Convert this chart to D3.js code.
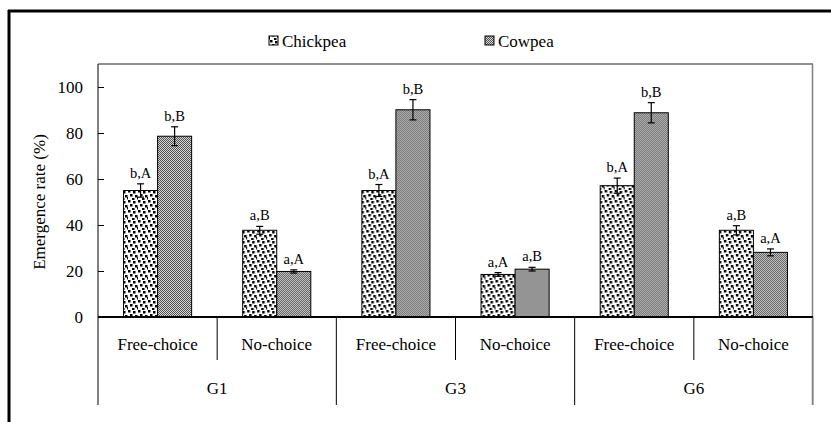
<!DOCTYPE html>
<html>
<head>
<meta charset="utf-8">
<script src="https://cdn.jsdelivr.net/npm/d3@7"></script>
<style>
  html, body { margin: 0; padding: 0; background: #fff; }
  #chart { width: 831px; height: 422px; }
  svg text { font-family: "Liberation Serif", "Times New Roman", serif; fill: #000; }
</style>
</head>
<body>
<div id="chart"></div>
<script>
// Emergence rate by parasitoid group, choice test and host
const groups = ["G1", "G3", "G6"];
const choices = ["Free-choice", "No-choice"];
const series = ["Chickpea", "Cowpea"];

// values in order G1 free, G1 no, G3 free, G3 no, G6 free, G6 no
const chickpeaValues = [55.0, 37.7, 55.0, 18.5, 57.1, 37.7];
const cowpeaValues   = [78.6, 19.8, 90.1, 20.8, 88.8, 28.1];
const chickpeaErr = [2.9, 1.7, 2.6, 0.8, 3.3, 2.0];
const cowpeaErr   = [4.1, 0.7, 4.4, 0.8, 4.4, 1.5];
const chickpeaLetters = ["b,A", "a,B", "b,A", "a,A", "b,A", "a,B"];
const cowpeaLetters   = ["b,B", "a,A", "b,B", "a,B", "b,B", "a,A"];
const yTicks = [0, 20, 40, 60, 80, 100];

const W = 831, H = 422;
const M = {l: 98, r: 813, t: 64, b: 317};
const FONT = "'Liberation Serif', 'Times New Roman', serif";

const svg = d3.select("#chart").append("svg").attr("width", W).attr("height", H)
  .attr("font-family", FONT);

// fill patterns
const defs = svg.append("defs");
const dots = defs.append("pattern").attr("id", "dots")
  .attr("patternUnits", "userSpaceOnUse").attr("width", 10).attr("height", 10);
dots.append("rect").attr("width", 10).attr("height", 10).attr("fill", "#fff");
[[0, 0], [5, 1], [2, 4], [7, 5], [4, 8], [9, 7]].forEach(p => {
  dots.append("rect").attr("x", p[0]).attr("y", p[1]).attr("width", 2.5).attr("height", 2.5).attr("fill", "#000");
});
const checks = defs.append("pattern").attr("id", "checks")
  .attr("patternUnits", "userSpaceOnUse").attr("width", 2).attr("height", 2);
checks.append("rect").attr("width", 2).attr("height", 2).attr("fill", "#d8d8d8");
checks.append("rect").attr("x", 0).attr("y", 0).attr("width", 1).attr("height", 1).attr("fill", "#505050");
checks.append("rect").attr("x", 1).attr("y", 1).attr("width", 1).attr("height", 1).attr("fill", "#505050");
const fills = {Chickpea: "url(#dots)", Cowpea: "url(#checks)"};

// outer frame (cropped: only top and left visible)
svg.append("line").attr("x1", 8).attr("x2", W).attr("y1", 11).attr("y2", 11)
  .attr("stroke", "#000").attr("stroke-width", 3);
svg.append("line").attr("x1", 9).attr("x2", 9).attr("y1", 10).attr("y2", H)
  .attr("stroke", "#000").attr("stroke-width", 3);

// rows
const rows = [];
groups.forEach((g, gi) => choices.forEach((c, ci) => {
  const i = gi * 2 + ci;
  rows.push({key: g + "|" + c, group: g, choice: c, vals: [
    {s: "Chickpea", v: chickpeaValues[i], e: chickpeaErr[i], lab: chickpeaLetters[i]},
    {s: "Cowpea", v: cowpeaValues[i], e: cowpeaErr[i], lab: cowpeaLetters[i]}
  ]});
}));

const x0 = d3.scaleBand().domain(rows.map(d => d.key)).range([M.l, M.r]);
const x1 = d3.scaleBand().domain(series).range([0, x0.bandwidth()]).paddingOuter(0.75).paddingInner(0);
const y = d3.scaleLinear().domain([0, 110]).range([M.b, M.t]);

// plot area border (top + right)
svg.append("line").attr("x1", M.l).attr("x2", M.r).attr("y1", M.t).attr("y2", M.t)
  .attr("stroke", "#222").attr("stroke-width", 1);
svg.append("line").attr("x1", M.r - 0.5).attr("x2", M.r - 0.5).attr("y1", M.t).attr("y2", 405)
  .attr("stroke", "#808080").attr("stroke-width", 1.5);

// bars
const g = svg.selectAll(".cat").data(rows).enter().append("g")
  .attr("transform", d => `translate(${x0(d.key)},0)`);
g.selectAll("rect").data(d => d.vals).enter().append("rect")
  .attr("x", d => x1(d.s))
  .attr("y", d => y(d.v))
  .attr("width", x1.bandwidth())
  .attr("height", d => y(0) - y(d.v))
  .attr("fill", d => fills[d.s])
  .attr("stroke", "#000").attr("stroke-width", 1);

// error bars
const eb = g.selectAll(".err").data(d => d.vals).enter().append("g")
  .attr("stroke", "#000").attr("stroke-width", 1.2);
eb.append("line")
  .attr("x1", d => x1(d.s) + x1.bandwidth() / 2).attr("x2", d => x1(d.s) + x1.bandwidth() / 2)
  .attr("y1", d => y(d.v + d.e)).attr("y2", d => y(d.v - d.e));
[1, -1].forEach(sg => {
  eb.append("line")
    .attr("x1", d => x1(d.s) + x1.bandwidth() / 2 - 3.5).attr("x2", d => x1(d.s) + x1.bandwidth() / 2 + 3.5)
    .attr("y1", d => y(d.v + sg * d.e)).attr("y2", d => y(d.v + sg * d.e));
});

// letter labels
g.selectAll(".lab").data(d => d.vals).enter().append("text")
  .attr("x", d => x1(d.s) + x1.bandwidth() / 2)
  .attr("y", d => y(d.v + d.e) - 6)
  .attr("text-anchor", "middle")
  .attr("font-size", 14.5)
  .text(d => d.lab);

// y axis
const yAxis = svg.append("g").attr("transform", `translate(${M.l},0)`)
  .call(d3.axisRight(y).tickValues(yTicks).tickSize(6).tickFormat(d3.format("d")))
  .attr("font-family", FONT);
yAxis.select(".domain").remove();
yAxis.selectAll(".tick line").attr("stroke", "#000");
yAxis.selectAll(".tick text").attr("x", -15).attr("text-anchor", "end")
  .attr("font-size", 17);
svg.append("line").attr("x1", M.l).attr("x2", M.l).attr("y1", M.t).attr("y2", 405)
  .attr("stroke", "#000").attr("stroke-width", 1);

svg.append("text")
  .attr("transform", `translate(45,${(y(0) + y(100)) / 2}) rotate(-90)`)
  .attr("text-anchor", "middle")
  .attr("font-size", 17)
  .text("Emergence rate (%)");

// x axis line and category separators
svg.append("line").attr("x1", M.l).attr("x2", M.r).attr("y1", y(0)).attr("y2", y(0))
  .attr("stroke", "#000").attr("stroke-width", 2);
rows.forEach((d, i) => {
  const xr = x0(d.key) + x0.bandwidth();
  const isGroupEnd = i % 2 === 1;
  svg.append("line").attr("x1", xr).attr("x2", xr)
    .attr("y1", y(0)).attr("y2", isGroupEnd ? 405 : 360)
    .attr("stroke", isGroupEnd && i === rows.length - 1 ? "#808080" : "#000").attr("stroke-width", 1);
  svg.append("text")
    .attr("x", x0(d.key) + x0.bandwidth() / 2).attr("y", 350)
    .attr("text-anchor", "middle").attr("font-size", 17)
    .text(d.choice);
});
groups.forEach(gr => {
  const a = x0(gr + "|" + choices[0]);
  const b = x0(gr + "|" + choices[1]) + x0.bandwidth();
  svg.append("text")
    .attr("x", (a + b) / 2).attr("y", 394)
    .attr("text-anchor", "middle").attr("font-size", 17)
    .text(gr);
});

// legend
const legendX = [269, 485];
series.forEach((s, i) => {
  svg.append("rect").attr("x", legendX[i]).attr("y", 36).attr("width", 9).attr("height", 9)
    .attr("fill", fills[s]).attr("stroke", "#000").attr("stroke-width", 1);
  svg.append("text").attr("x", legendX[i] + 13).attr("y", 47)
    .attr("font-size", 17).text(s);
});
</script>
</body>
</html>
